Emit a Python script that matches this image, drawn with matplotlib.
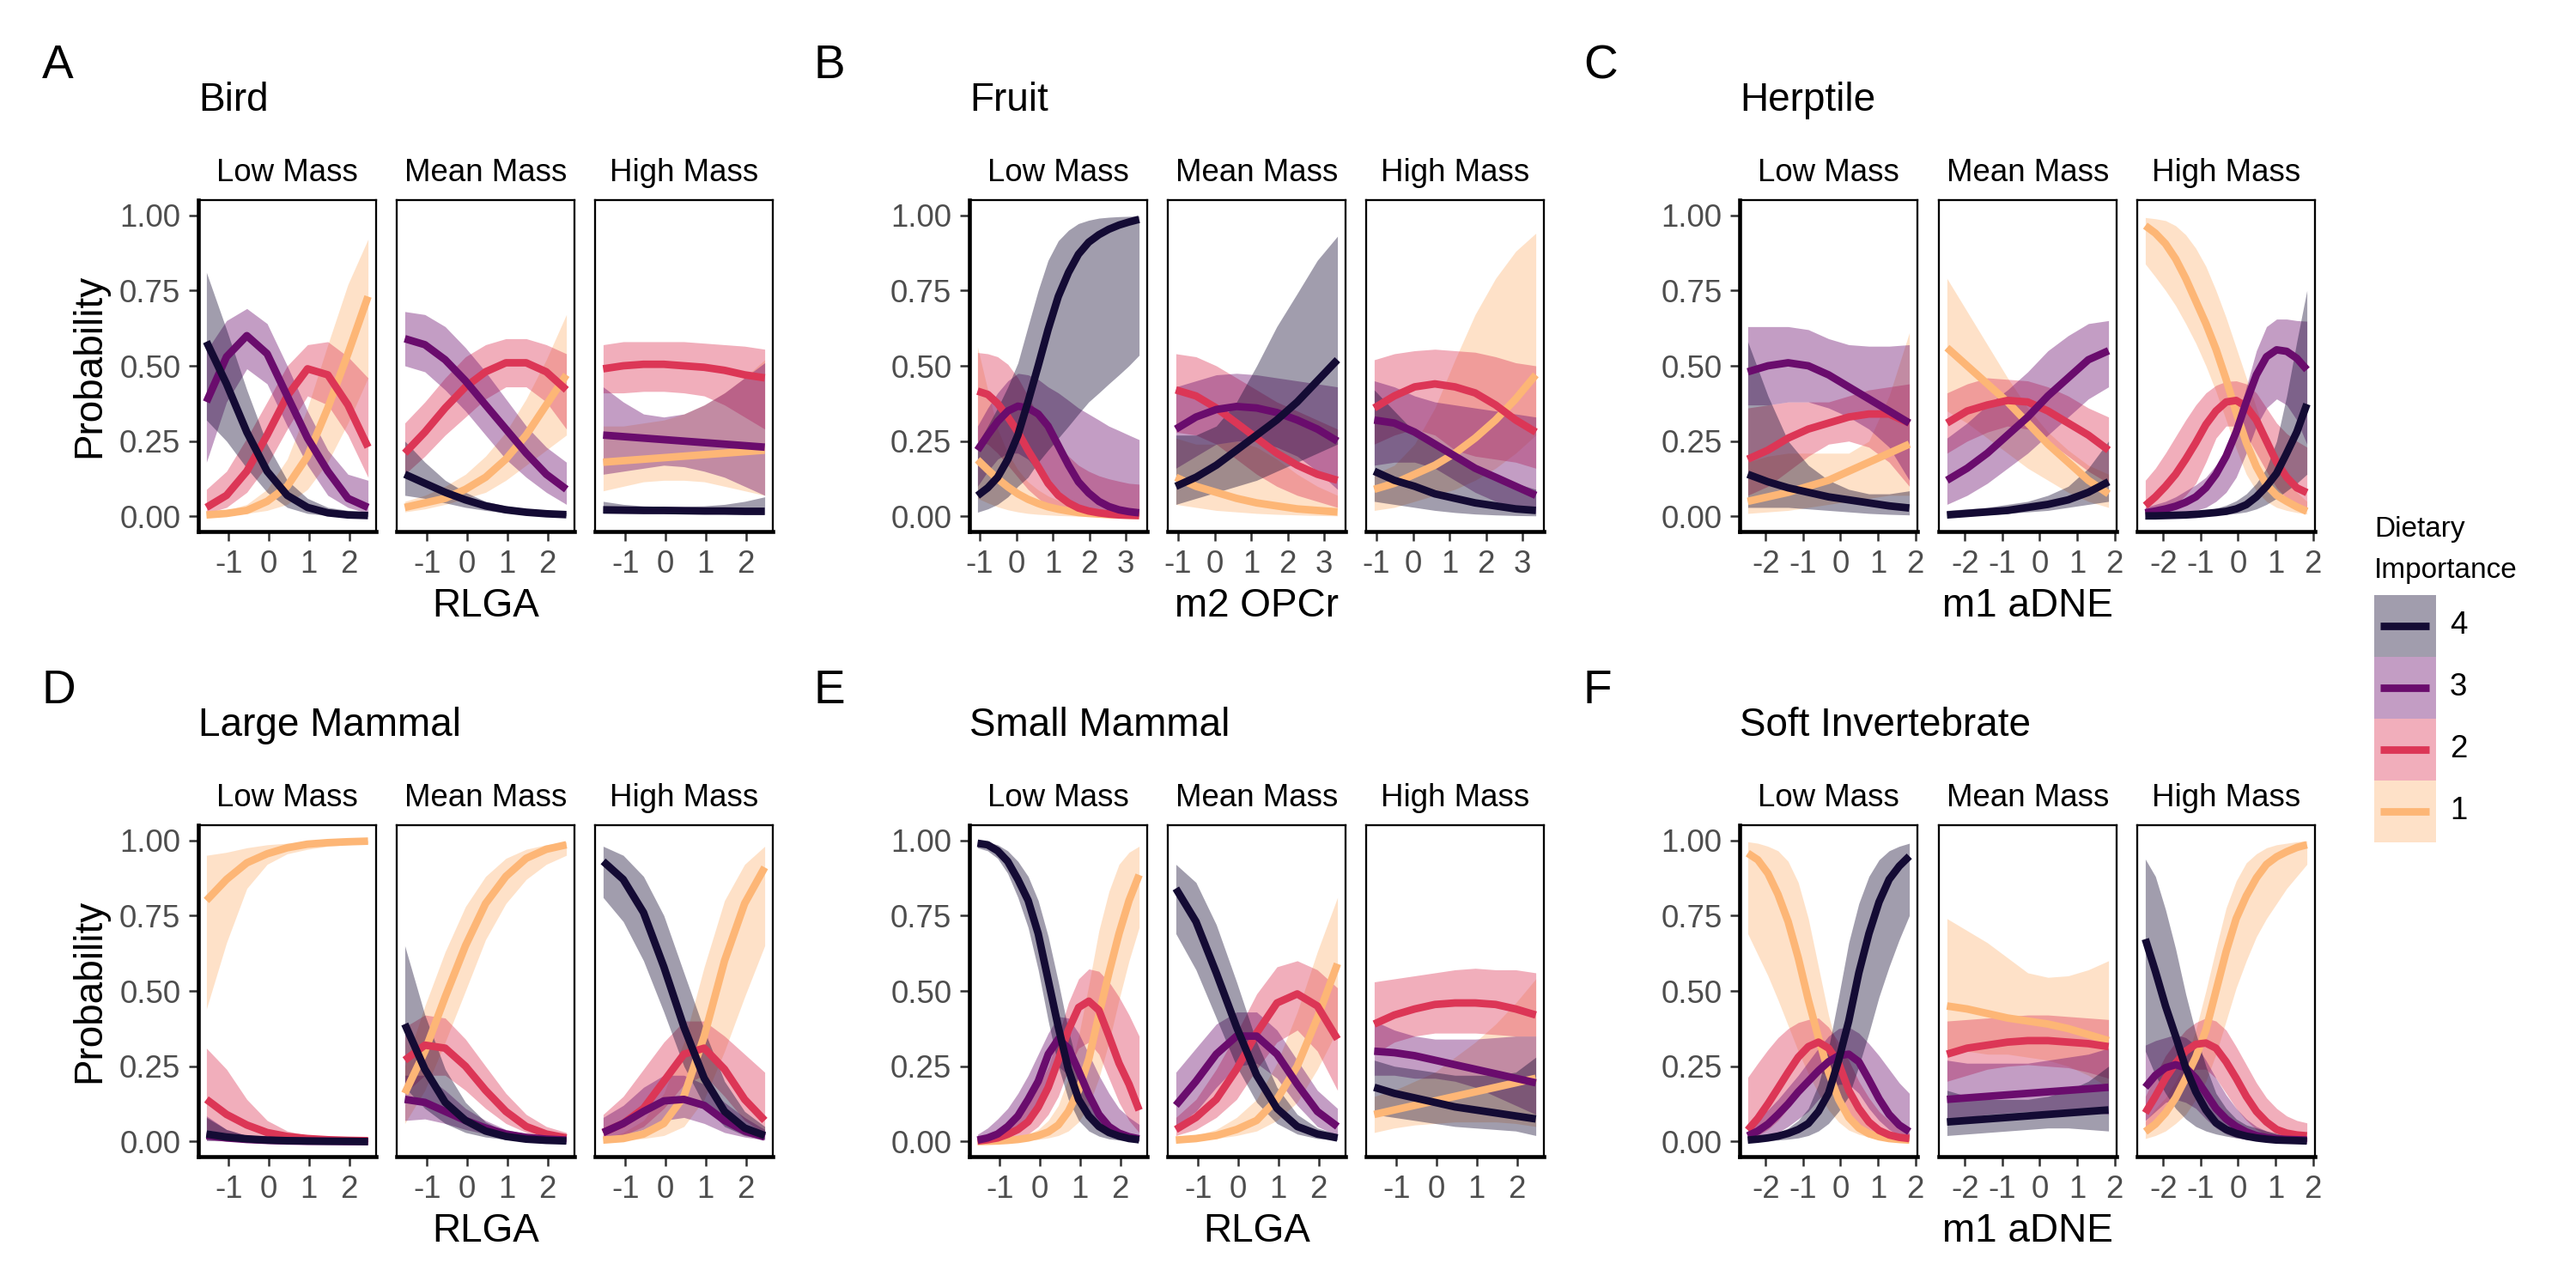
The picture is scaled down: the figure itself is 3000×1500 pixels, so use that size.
import matplotlib
matplotlib.use("Agg")
import matplotlib.pyplot as plt
from matplotlib.patches import Rectangle

plt.rcParams['font.family'] = ['Liberation Sans', 'DejaVu Sans']

# ---------------- data ----------------
levels = ["4", "3", "2", "1"]
level_colors = ["#140B34", "#6A0C6D", "#DC3656", "#FDB676"]
mass_labels = ["Low Mass", "Mean Mass", "High Mass"]

rlga_x = [-1.55, -1.05, -0.545, -0.04, 0.46, 0.965, 1.47, 1.97, 2.47]
opcr_x = [-1.06, -0.51, 0.045, 0.60, 1.15, 1.70, 2.26, 2.81, 3.36]
adne_x = [-2.48, -1.94, -1.40, -0.86, -0.32, 0.22, 0.76, 1.30, 1.84]
rlga_x17 = [-1.55, -1.30, -1.05, -0.80, -0.545, -0.29, -0.04, 0.21, 0.46,
            0.71, 0.965, 1.22, 1.47, 1.72, 1.97, 2.22, 2.47]
opcr_x17 = [-1.06, -0.78, -0.51, -0.23, 0.045, 0.32, 0.60, 0.87, 1.15,
            1.43, 1.70, 1.98, 2.26, 2.53, 2.81, 3.08, 3.36]
adne_x17 = [-2.48, -2.21, -1.94, -1.67, -1.40, -1.13, -0.86, -0.59, -0.32,
            -0.05, 0.22, 0.49, 0.76, 1.03, 1.30, 1.57, 1.84]
rlga_ticks = [-1, 0, 1, 2]
opcr_ticks = [-1, 0, 1, 2, 3]
adne_ticks = [-2, -1, 0, 1, 2]
y_ticks = [0.0, 0.25, 0.5, 0.75, 1.0]
y_tick_labels = ["0.00", "0.25", "0.50", "0.75", "1.00"]

# rows within each block: level 4, 3, 2, 1
# ---- A: Bird ----
bird_low_fit = [[0.58, 0.44, 0.28, 0.15, 0.07, 0.03, 0.012, 0.005, 0.003],
                [0.38, 0.53, 0.60, 0.54, 0.40, 0.26, 0.15, 0.06, 0.03],
                [0.03, 0.07, 0.15, 0.27, 0.40, 0.49, 0.47, 0.37, 0.23],
                [0.005, 0.01, 0.02, 0.05, 0.10, 0.20, 0.36, 0.54, 0.73]]
bird_low_lo = [[0.32, 0.25, 0.16, 0.08, 0.03, 0.01, 0.003, 0.001, 0.0],
               [0.18, 0.38, 0.49, 0.44, 0.30, 0.17, 0.07, 0.03, 0.01],
               [0.01, 0.03, 0.08, 0.17, 0.29, 0.40, 0.37, 0.27, 0.13],
               [0.0, 0.003, 0.01, 0.02, 0.04, 0.09, 0.18, 0.31, 0.46]]
bird_low_hi = [[0.81, 0.62, 0.42, 0.24, 0.12, 0.06, 0.03, 0.02, 0.015],
               [0.55, 0.65, 0.69, 0.64, 0.50, 0.35, 0.22, 0.14, 0.12],
               [0.09, 0.15, 0.26, 0.38, 0.50, 0.57, 0.58, 0.53, 0.46],
               [0.01, 0.02, 0.04, 0.09, 0.19, 0.36, 0.57, 0.77, 0.92]]
bird_mean_fit = [[0.14, 0.11, 0.08, 0.055, 0.035, 0.022, 0.014, 0.009, 0.006],
                 [0.59, 0.57, 0.52, 0.45, 0.37, 0.29, 0.21, 0.14, 0.09],
                 [0.21, 0.28, 0.36, 0.43, 0.48, 0.51, 0.51, 0.48, 0.42],
                 [0.03, 0.045, 0.06, 0.09, 0.13, 0.19, 0.27, 0.37, 0.47]]
bird_mean_lo = [[0.07, 0.06, 0.045, 0.03, 0.02, 0.012, 0.007, 0.004, 0.002],
                [0.50, 0.48, 0.42, 0.35, 0.27, 0.19, 0.13, 0.08, 0.04],
                [0.14, 0.20, 0.27, 0.33, 0.39, 0.43, 0.43, 0.38, 0.29],
                [0.015, 0.025, 0.04, 0.06, 0.08, 0.12, 0.17, 0.22, 0.27]]
bird_mean_hi = [[0.25, 0.18, 0.12, 0.08, 0.05, 0.035, 0.025, 0.018, 0.014],
                [0.68, 0.67, 0.63, 0.56, 0.48, 0.39, 0.30, 0.23, 0.18],
                [0.31, 0.38, 0.46, 0.53, 0.57, 0.59, 0.59, 0.57, 0.54],
                [0.05, 0.07, 0.10, 0.14, 0.20, 0.28, 0.39, 0.52, 0.67]]
bird_high_fit = [[0.022, 0.021, 0.02, 0.02, 0.019, 0.018, 0.018, 0.017, 0.017],
                 [0.27, 0.265, 0.26, 0.255, 0.25, 0.245, 0.24, 0.235, 0.23],
                 [0.49, 0.50, 0.505, 0.505, 0.50, 0.495, 0.485, 0.47, 0.46],
                 [0.18, 0.185, 0.19, 0.195, 0.20, 0.205, 0.21, 0.215, 0.22]]
bird_high_lo = [[0.01, 0.01, 0.01, 0.009, 0.009, 0.009, 0.008, 0.008, 0.007],
                [0.14, 0.15, 0.16, 0.17, 0.165, 0.15, 0.13, 0.10, 0.07],
                [0.41, 0.41, 0.415, 0.415, 0.41, 0.40, 0.37, 0.33, 0.29],
                [0.085, 0.10, 0.115, 0.12, 0.12, 0.115, 0.10, 0.085, 0.07]]
bird_high_hi = [[0.05, 0.04, 0.035, 0.033, 0.033, 0.035, 0.04, 0.05, 0.065],
                [0.43, 0.38, 0.34, 0.33, 0.34, 0.37, 0.41, 0.46, 0.51],
                [0.57, 0.58, 0.58, 0.58, 0.58, 0.575, 0.57, 0.565, 0.555],
                [0.30, 0.30, 0.31, 0.32, 0.34, 0.37, 0.41, 0.46, 0.52]]

# ---- B: Fruit ----  (low mass read on the finer grid)
fruit_low_fit = [[0.069, 0.095, 0.13, 0.19, 0.27, 0.38, 0.50, 0.62, 0.73, 0.81, 0.87, 0.91, 0.935, 0.953, 0.967, 0.977, 0.986],
                 [0.22, 0.27, 0.315, 0.35, 0.366, 0.36, 0.34, 0.30, 0.235, 0.17, 0.115, 0.078, 0.05, 0.033, 0.022, 0.016, 0.012],
                 [0.416, 0.405, 0.375, 0.33, 0.28, 0.22, 0.165, 0.11, 0.07, 0.045, 0.028, 0.018, 0.012, 0.008, 0.005, 0.004, 0.003],
                 [0.188, 0.155, 0.125, 0.098, 0.075, 0.057, 0.043, 0.032, 0.024, 0.018, 0.013, 0.01, 0.008, 0.006, 0.005, 0.004, 0.003]]
fruit_low_lo = [[0.014, 0.025, 0.04, 0.065, 0.10, 0.13, 0.18, 0.22, 0.26, 0.30, 0.34, 0.38, 0.41, 0.44, 0.47, 0.50, 0.535],
                [0.10, 0.15, 0.19, 0.21, 0.21, 0.19, 0.15, 0.11, 0.075, 0.05, 0.03, 0.018, 0.01, 0.006, 0.004, 0.003, 0.002],
                [0.25, 0.24, 0.21, 0.17, 0.13, 0.09, 0.06, 0.035, 0.02, 0.01, 0.006, 0.004, 0.002, 0.001, 0.001, 0.0, 0.0],
                [0.06, 0.045, 0.032, 0.022, 0.015, 0.01, 0.007, 0.005, 0.003, 0.002, 0.001, 0.001, 0.0, 0.0, 0.0, 0.0, 0.0]]
fruit_low_hi = [[0.24, 0.30, 0.36, 0.43, 0.51, 0.63, 0.75, 0.85, 0.915, 0.95, 0.972, 0.983, 0.99, 0.993, 0.995, 0.996, 0.997],
                [0.30, 0.36, 0.41, 0.45, 0.475, 0.47, 0.455, 0.43, 0.41, 0.385, 0.36, 0.34, 0.32, 0.30, 0.285, 0.27, 0.255],
                [0.544, 0.54, 0.53, 0.505, 0.46, 0.40, 0.335, 0.28, 0.235, 0.20, 0.17, 0.15, 0.135, 0.125, 0.117, 0.11, 0.107],
                [0.563, 0.42, 0.29, 0.21, 0.155, 0.115, 0.088, 0.068, 0.053, 0.043, 0.035, 0.028, 0.023, 0.019, 0.016, 0.014, 0.012]]
fruit_mean_fit = [[0.10, 0.13, 0.17, 0.22, 0.27, 0.32, 0.38, 0.45, 0.52],
                  [0.29, 0.33, 0.355, 0.365, 0.36, 0.345, 0.32, 0.29, 0.25],
                  [0.42, 0.40, 0.36, 0.31, 0.26, 0.21, 0.17, 0.14, 0.12],
                  [0.13, 0.10, 0.08, 0.06, 0.045, 0.035, 0.025, 0.02, 0.015]]
fruit_mean_lo = [[0.04, 0.06, 0.08, 0.10, 0.12, 0.15, 0.18, 0.21, 0.24],
                 [0.16, 0.20, 0.24, 0.25, 0.25, 0.23, 0.20, 0.15, 0.09],
                 [0.28, 0.27, 0.24, 0.19, 0.14, 0.10, 0.07, 0.05, 0.03],
                 [0.04, 0.03, 0.02, 0.015, 0.01, 0.007, 0.005, 0.003, 0.002]]
fruit_mean_hi = [[0.27, 0.27, 0.30, 0.38, 0.50, 0.63, 0.74, 0.85, 0.93],
                 [0.43, 0.45, 0.47, 0.475, 0.47, 0.46, 0.45, 0.44, 0.43],
                 [0.54, 0.53, 0.50, 0.46, 0.42, 0.38, 0.35, 0.32, 0.29],
                 [0.26, 0.24, 0.24, 0.25, 0.23, 0.19, 0.14, 0.10, 0.07]]
fruit_high_fit = [[0.15, 0.12, 0.10, 0.075, 0.06, 0.045, 0.035, 0.025, 0.02],
                  [0.32, 0.31, 0.28, 0.24, 0.20, 0.16, 0.13, 0.10, 0.07],
                  [0.36, 0.40, 0.43, 0.44, 0.43, 0.41, 0.37, 0.32, 0.28],
                  [0.09, 0.11, 0.14, 0.17, 0.21, 0.26, 0.32, 0.39, 0.47]]
fruit_high_lo = [[0.05, 0.04, 0.03, 0.02, 0.013, 0.008, 0.005, 0.003, 0.002],
                 [0.17, 0.18, 0.18, 0.16, 0.12, 0.08, 0.05, 0.03, 0.01],
                 [0.24, 0.27, 0.29, 0.27, 0.22, 0.20, 0.19, 0.18, 0.16],
                 [0.02, 0.03, 0.05, 0.07, 0.09, 0.12, 0.16, 0.21, 0.27]]
fruit_high_hi = [[0.42, 0.35, 0.28, 0.23, 0.19, 0.16, 0.13, 0.11, 0.09],
                 [0.45, 0.43, 0.40, 0.38, 0.37, 0.36, 0.35, 0.34, 0.33],
                 [0.52, 0.54, 0.55, 0.555, 0.55, 0.545, 0.53, 0.51, 0.50],
                 [0.14, 0.17, 0.24, 0.36, 0.52, 0.67, 0.79, 0.88, 0.94]]

# ---- C: Herptile ---- (high mass read on the finer grid)
herp_low_fit = [[0.14, 0.115, 0.095, 0.08, 0.065, 0.055, 0.045, 0.035, 0.028],
                [0.48, 0.50, 0.51, 0.50, 0.47, 0.43, 0.39, 0.35, 0.31],
                [0.19, 0.22, 0.26, 0.29, 0.31, 0.33, 0.34, 0.34, 0.31],
                [0.05, 0.065, 0.08, 0.10, 0.12, 0.15, 0.18, 0.21, 0.24]]
herp_low_lo = [[0.03, 0.03, 0.03, 0.025, 0.02, 0.015, 0.01, 0.007, 0.005],
               [0.37, 0.37, 0.38, 0.38, 0.36, 0.33, 0.29, 0.23, 0.12],
               [0.07, 0.10, 0.15, 0.20, 0.24, 0.25, 0.23, 0.18, 0.10],
               [0.01, 0.015, 0.02, 0.03, 0.04, 0.05, 0.06, 0.07, 0.07]]
herp_low_hi = [[0.58, 0.40, 0.25, 0.17, 0.12, 0.09, 0.075, 0.075, 0.085],
               [0.63, 0.63, 0.63, 0.62, 0.59, 0.57, 0.565, 0.565, 0.57],
               [0.36, 0.37, 0.38, 0.38, 0.38, 0.40, 0.42, 0.43, 0.44],
               [0.18, 0.20, 0.21, 0.21, 0.21, 0.21, 0.25, 0.40, 0.61]]
herp_mean_fit = [[0.005, 0.01, 0.015, 0.02, 0.03, 0.04, 0.055, 0.08, 0.115],
                 [0.12, 0.16, 0.21, 0.27, 0.33, 0.40, 0.46, 0.52, 0.55],
                 [0.31, 0.35, 0.37, 0.385, 0.38, 0.35, 0.31, 0.27, 0.22],
                 [0.56, 0.50, 0.44, 0.38, 0.31, 0.24, 0.18, 0.12, 0.075]]
herp_mean_lo = [[0.001, 0.003, 0.005, 0.01, 0.015, 0.02, 0.03, 0.04, 0.05],
                [0.04, 0.07, 0.11, 0.16, 0.21, 0.27, 0.33, 0.39, 0.43],
                [0.21, 0.25, 0.28, 0.30, 0.29, 0.25, 0.20, 0.15, 0.11],
                [0.35, 0.31, 0.26, 0.21, 0.16, 0.12, 0.08, 0.05, 0.03]]
herp_mean_hi = [[0.02, 0.025, 0.03, 0.04, 0.05, 0.07, 0.10, 0.16, 0.25],
                [0.26, 0.31, 0.37, 0.42, 0.48, 0.55, 0.60, 0.64, 0.65],
                [0.41, 0.44, 0.46, 0.455, 0.45, 0.43, 0.40, 0.36, 0.33],
                [0.79, 0.68, 0.57, 0.46, 0.36, 0.28, 0.22, 0.17, 0.14]]
herp_high_fit = [[0.002, 0.002, 0.003, 0.004, 0.005, 0.007, 0.01, 0.013, 0.017, 0.025, 0.039, 0.065, 0.10, 0.143, 0.21, 0.28, 0.373],
                 [0.012, 0.018, 0.025, 0.034, 0.047, 0.065, 0.095, 0.14, 0.20, 0.28, 0.38, 0.47, 0.53, 0.553, 0.548, 0.525, 0.487],
                 [0.036, 0.065, 0.10, 0.14, 0.19, 0.245, 0.305, 0.35, 0.38, 0.385, 0.365, 0.32, 0.25, 0.18, 0.13, 0.095, 0.079],
                 [0.965, 0.94, 0.905, 0.855, 0.79, 0.715, 0.64, 0.555, 0.455, 0.345, 0.245, 0.165, 0.105, 0.07, 0.05, 0.032, 0.017]]
herp_high_lo = [[0.0, 0.0, 0.0, 0.001, 0.001, 0.002, 0.003, 0.005, 0.007, 0.01, 0.015, 0.025, 0.04, 0.06, 0.085, 0.11, 0.14],
                [0.002, 0.003, 0.005, 0.008, 0.012, 0.02, 0.03, 0.05, 0.08, 0.13, 0.21, 0.30, 0.36, 0.39, 0.37, 0.32, 0.24],
                [0.005, 0.01, 0.02, 0.04, 0.07, 0.11, 0.18, 0.26, 0.30, 0.30, 0.27, 0.21, 0.15, 0.095, 0.06, 0.04, 0.025],
                [0.838, 0.795, 0.75, 0.70, 0.64, 0.575, 0.50, 0.415, 0.32, 0.225, 0.14, 0.085, 0.05, 0.03, 0.02, 0.013, 0.008]]
herp_high_hi = [[0.005, 0.006, 0.007, 0.009, 0.011, 0.015, 0.02, 0.027, 0.037, 0.052, 0.075, 0.11, 0.16, 0.25, 0.40, 0.58, 0.75],
                [0.03, 0.04, 0.05, 0.065, 0.085, 0.105, 0.13, 0.17, 0.22, 0.31, 0.43, 0.55, 0.63, 0.655, 0.655, 0.65, 0.648],
                [0.12, 0.16, 0.21, 0.265, 0.32, 0.37, 0.41, 0.435, 0.448, 0.45, 0.44, 0.41, 0.36, 0.31, 0.275, 0.25, 0.23],
                [0.992, 0.988, 0.982, 0.965, 0.935, 0.89, 0.83, 0.75, 0.66, 0.56, 0.46, 0.36, 0.26, 0.18, 0.12, 0.08, 0.05]]

# ---- D: Large Mammal ----
lm_low_fit = [[0.025, 0.015, 0.009, 0.005, 0.003, 0.002, 0.001, 0.001, 0.0],
              [0.02, 0.012, 0.007, 0.004, 0.002, 0.001, 0.001, 0.0, 0.0],
              [0.14, 0.09, 0.055, 0.03, 0.017, 0.01, 0.006, 0.004, 0.003],
              [0.80, 0.87, 0.925, 0.955, 0.975, 0.987, 0.992, 0.995, 0.997]]
lm_low_lo = [[0.005, 0.003, 0.002, 0.001, 0.0, 0.0, 0.0, 0.0, 0.0],
             [0.003, 0.002, 0.001, 0.0, 0.0, 0.0, 0.0, 0.0, 0.0],
             [0.04, 0.025, 0.015, 0.008, 0.004, 0.002, 0.001, 0.001, 0.0],
             [0.44, 0.66, 0.84, 0.92, 0.955, 0.97, 0.98, 0.985, 0.99]]
lm_low_hi = [[0.08, 0.04, 0.02, 0.01, 0.006, 0.004, 0.003, 0.002, 0.002],
             [0.085, 0.04, 0.02, 0.01, 0.005, 0.003, 0.002, 0.001, 0.001],
             [0.31, 0.24, 0.14, 0.07, 0.035, 0.02, 0.014, 0.012, 0.011],
             [0.95, 0.96, 0.975, 0.985, 0.99, 0.995, 0.997, 0.998, 0.999]]
lm_mean_fit = [[0.39, 0.24, 0.13, 0.07, 0.035, 0.017, 0.008, 0.004, 0.002],
               [0.14, 0.13, 0.10, 0.07, 0.045, 0.025, 0.014, 0.008, 0.005],
               [0.27, 0.32, 0.31, 0.25, 0.17, 0.10, 0.05, 0.025, 0.012],
               [0.16, 0.30, 0.48, 0.65, 0.79, 0.88, 0.94, 0.97, 0.985]]
lm_mean_lo = [[0.18, 0.11, 0.06, 0.03, 0.015, 0.007, 0.003, 0.001, 0.0],
              [0.07, 0.075, 0.06, 0.04, 0.025, 0.013, 0.007, 0.004, 0.002],
              [0.16, 0.22, 0.22, 0.17, 0.11, 0.06, 0.03, 0.012, 0.005],
              [0.06, 0.17, 0.33, 0.50, 0.67, 0.79, 0.87, 0.92, 0.95]]
lm_mean_hi = [[0.65, 0.42, 0.24, 0.13, 0.065, 0.032, 0.016, 0.008, 0.004],
              [0.22, 0.22, 0.17, 0.11, 0.07, 0.04, 0.025, 0.015, 0.01],
              [0.38, 0.42, 0.41, 0.34, 0.25, 0.16, 0.09, 0.05, 0.03],
              [0.25, 0.45, 0.63, 0.78, 0.88, 0.94, 0.97, 0.985, 0.995]]
lm_high_fit = [[0.93, 0.87, 0.76, 0.58, 0.38, 0.21, 0.10, 0.045, 0.02],
               [0.03, 0.06, 0.10, 0.135, 0.14, 0.12, 0.07, 0.035, 0.015],
               [0.03, 0.06, 0.11, 0.20, 0.29, 0.31, 0.24, 0.14, 0.07],
               [0.005, 0.01, 0.025, 0.06, 0.15, 0.35, 0.60, 0.79, 0.91]]
lm_high_lo = [[0.81, 0.73, 0.60, 0.43, 0.25, 0.12, 0.05, 0.02, 0.008],
              [0.01, 0.02, 0.04, 0.07, 0.08, 0.06, 0.03, 0.015, 0.005],
              [0.01, 0.02, 0.05, 0.11, 0.19, 0.22, 0.15, 0.07, 0.025],
              [0.002, 0.004, 0.01, 0.02, 0.05, 0.14, 0.30, 0.48, 0.65]]
lm_high_hi = [[0.98, 0.95, 0.88, 0.75, 0.56, 0.37, 0.20, 0.10, 0.05],
              [0.08, 0.12, 0.18, 0.22, 0.22, 0.19, 0.13, 0.08, 0.04],
              [0.09, 0.15, 0.24, 0.33, 0.40, 0.40, 0.35, 0.29, 0.23],
              [0.01, 0.03, 0.07, 0.16, 0.33, 0.58, 0.80, 0.92, 0.98]]

# ---- E: Small Mammal ---- (low mass read on the finer grid)
sm_low_fit = [[0.99, 0.985, 0.965, 0.93, 0.87, 0.80, 0.69, 0.535, 0.38, 0.24, 0.14, 0.085, 0.05, 0.03, 0.018, 0.01, 0.006],
              [0.005, 0.012, 0.025, 0.05, 0.085, 0.14, 0.20, 0.29, 0.34, 0.31, 0.235, 0.155, 0.09, 0.05, 0.028, 0.016, 0.009],
              [0.002, 0.006, 0.012, 0.024, 0.04, 0.066, 0.114, 0.18, 0.27, 0.37, 0.445, 0.466, 0.436, 0.35, 0.26, 0.19, 0.104],
              [0.0, 0.001, 0.002, 0.004, 0.007, 0.012, 0.02, 0.032, 0.055, 0.10, 0.17, 0.275, 0.42, 0.56, 0.69, 0.80, 0.885]]
sm_low_lo = [[0.975, 0.965, 0.94, 0.89, 0.81, 0.71, 0.57, 0.40, 0.25, 0.14, 0.07, 0.035, 0.018, 0.009, 0.005, 0.003, 0.001],
             [0.001, 0.003, 0.008, 0.018, 0.035, 0.065, 0.12, 0.20, 0.25, 0.22, 0.15, 0.085, 0.045, 0.022, 0.012, 0.006, 0.003],
             [0.0, 0.001, 0.003, 0.007, 0.013, 0.025, 0.05, 0.09, 0.15, 0.24, 0.31, 0.33, 0.29, 0.21, 0.13, 0.07, 0.03],
             [0.0, 0.0, 0.001, 0.001, 0.002, 0.004, 0.007, 0.012, 0.02, 0.035, 0.065, 0.12, 0.21, 0.33, 0.47, 0.60, 0.71]]
sm_low_hi = [[0.995, 0.993, 0.985, 0.965, 0.93, 0.88, 0.80, 0.68, 0.53, 0.37, 0.24, 0.15, 0.09, 0.055, 0.035, 0.025, 0.02],
             [0.024, 0.045, 0.075, 0.11, 0.16, 0.22, 0.29, 0.36, 0.415, 0.41, 0.36, 0.29, 0.22, 0.16, 0.11, 0.08, 0.057],
             [0.01, 0.015, 0.025, 0.045, 0.075, 0.12, 0.18, 0.25, 0.35, 0.46, 0.54, 0.573, 0.565, 0.53, 0.48, 0.42, 0.35],
             [0.001, 0.002, 0.004, 0.008, 0.014, 0.024, 0.04, 0.07, 0.12, 0.21, 0.35, 0.52, 0.70, 0.83, 0.92, 0.96, 0.98]]
sm_mean_fit = [[0.84, 0.73, 0.56, 0.38, 0.22, 0.11, 0.05, 0.025, 0.012],
               [0.12, 0.20, 0.29, 0.35, 0.35, 0.29, 0.19, 0.10, 0.05],
               [0.04, 0.08, 0.14, 0.24, 0.36, 0.46, 0.49, 0.45, 0.34],
               [0.005, 0.01, 0.02, 0.04, 0.07, 0.14, 0.25, 0.41, 0.59]]
sm_mean_lo = [[0.69, 0.57, 0.41, 0.25, 0.13, 0.06, 0.025, 0.01, 0.005],
              [0.05, 0.10, 0.18, 0.25, 0.26, 0.21, 0.12, 0.05, 0.02],
              [0.02, 0.04, 0.08, 0.14, 0.24, 0.33, 0.37, 0.30, 0.17],
              [0.002, 0.004, 0.01, 0.02, 0.035, 0.07, 0.13, 0.24, 0.37]]
sm_mean_hi = [[0.92, 0.86, 0.72, 0.53, 0.33, 0.18, 0.09, 0.045, 0.025],
              [0.23, 0.31, 0.39, 0.43, 0.43, 0.37, 0.27, 0.17, 0.11],
              [0.08, 0.14, 0.24, 0.36, 0.49, 0.58, 0.60, 0.57, 0.51],
              [0.01, 0.02, 0.04, 0.08, 0.14, 0.26, 0.43, 0.63, 0.81]]
sm_high_fit = [[0.18, 0.16, 0.145, 0.13, 0.115, 0.105, 0.095, 0.085, 0.075],
               [0.30, 0.295, 0.285, 0.27, 0.255, 0.24, 0.225, 0.21, 0.195],
               [0.39, 0.42, 0.44, 0.455, 0.46, 0.46, 0.455, 0.44, 0.42],
               [0.09, 0.105, 0.12, 0.135, 0.15, 0.165, 0.18, 0.195, 0.21]]
sm_high_lo = [[0.09, 0.08, 0.07, 0.06, 0.05, 0.045, 0.04, 0.035, 0.02],
              [0.22, 0.22, 0.21, 0.21, 0.20, 0.18, 0.15, 0.12, 0.09],
              [0.29, 0.33, 0.35, 0.36, 0.36, 0.36, 0.355, 0.35, 0.35],
              [0.03, 0.045, 0.055, 0.06, 0.065, 0.065, 0.065, 0.06, 0.05]]
sm_high_hi = [[0.27, 0.25, 0.24, 0.23, 0.22, 0.22, 0.22, 0.23, 0.28],
              [0.40, 0.37, 0.35, 0.34, 0.34, 0.34, 0.345, 0.35, 0.35],
              [0.53, 0.54, 0.55, 0.56, 0.57, 0.575, 0.57, 0.57, 0.56],
              [0.15, 0.17, 0.20, 0.23, 0.28, 0.33, 0.39, 0.46, 0.54]]

# ---- F: Soft Invertebrate ---- (low and high mass read on the finer grid)
si_low_fit = [[0.005, 0.008, 0.012, 0.018, 0.027, 0.04, 0.06, 0.10, 0.16, 0.27, 0.40, 0.56, 0.69, 0.795, 0.87, 0.914, 0.947],
              [0.019, 0.035, 0.058, 0.09, 0.125, 0.165, 0.20, 0.235, 0.265, 0.285, 0.29, 0.265, 0.205, 0.142, 0.09, 0.055, 0.033],
              [0.038, 0.077, 0.125, 0.177, 0.23, 0.28, 0.315, 0.33, 0.31, 0.26, 0.17, 0.11, 0.065, 0.037, 0.022, 0.014, 0.01],
              [0.957, 0.935, 0.89, 0.82, 0.73, 0.61, 0.47, 0.345, 0.23, 0.14, 0.08, 0.045, 0.026, 0.016, 0.01, 0.007, 0.005]]
si_low_lo = [[0.001, 0.002, 0.003, 0.005, 0.008, 0.012, 0.02, 0.035, 0.06, 0.10, 0.15, 0.25, 0.36, 0.48, 0.58, 0.67, 0.75],
             [0.003, 0.008, 0.016, 0.03, 0.05, 0.075, 0.10, 0.14, 0.17, 0.19, 0.19, 0.16, 0.11, 0.07, 0.04, 0.02, 0.01],
             [0.008, 0.02, 0.04, 0.07, 0.11, 0.16, 0.20, 0.23, 0.22, 0.17, 0.10, 0.05, 0.025, 0.012, 0.006, 0.003, 0.002],
             [0.69, 0.62, 0.55, 0.47, 0.385, 0.30, 0.225, 0.16, 0.105, 0.065, 0.038, 0.024, 0.015, 0.01, 0.007, 0.005, 0.004]]
si_low_hi = [[0.01, 0.014, 0.02, 0.03, 0.045, 0.07, 0.11, 0.19, 0.31, 0.48, 0.66, 0.79, 0.88, 0.935, 0.965, 0.98, 0.99],
             [0.06, 0.08, 0.105, 0.14, 0.18, 0.22, 0.265, 0.31, 0.35, 0.375, 0.38, 0.36, 0.325, 0.285, 0.24, 0.195, 0.16],
             [0.213, 0.26, 0.305, 0.345, 0.375, 0.395, 0.405, 0.41, 0.38, 0.33, 0.27, 0.20, 0.145, 0.10, 0.07, 0.045, 0.028],
             [0.995, 0.99, 0.98, 0.965, 0.93, 0.86, 0.74, 0.58, 0.42, 0.29, 0.18, 0.11, 0.065, 0.04, 0.025, 0.017, 0.012]]
si_mean_fit = [[0.065, 0.07, 0.075, 0.08, 0.085, 0.09, 0.095, 0.10, 0.105],
               [0.14, 0.145, 0.15, 0.155, 0.16, 0.165, 0.17, 0.175, 0.18],
               [0.29, 0.31, 0.32, 0.33, 0.335, 0.335, 0.33, 0.325, 0.315],
               [0.45, 0.44, 0.425, 0.41, 0.40, 0.39, 0.375, 0.355, 0.335]]
si_mean_lo = [[0.02, 0.025, 0.03, 0.035, 0.04, 0.045, 0.045, 0.04, 0.035],
              [0.07, 0.08, 0.09, 0.095, 0.10, 0.10, 0.10, 0.10, 0.09],
              [0.20, 0.22, 0.24, 0.25, 0.255, 0.25, 0.245, 0.23, 0.21],
              [0.30, 0.30, 0.29, 0.29, 0.28, 0.27, 0.25, 0.22, 0.18]]
si_mean_hi = [[0.17, 0.15, 0.14, 0.14, 0.14, 0.15, 0.17, 0.20, 0.25],
              [0.27, 0.26, 0.26, 0.26, 0.26, 0.27, 0.28, 0.29, 0.31],
              [0.40, 0.405, 0.41, 0.415, 0.42, 0.42, 0.415, 0.41, 0.405],
              [0.74, 0.70, 0.66, 0.61, 0.56, 0.545, 0.55, 0.57, 0.60]]
si_high_fit = [[0.672, 0.565, 0.45, 0.35, 0.245, 0.165, 0.105, 0.062, 0.04, 0.027, 0.018, 0.012, 0.008, 0.005, 0.004, 0.003, 0.002],
               [0.18, 0.22, 0.245, 0.255, 0.245, 0.21, 0.16, 0.11, 0.075, 0.05, 0.032, 0.02, 0.013, 0.009, 0.007, 0.006, 0.005],
               [0.095, 0.15, 0.21, 0.26, 0.30, 0.323, 0.327, 0.31, 0.265, 0.21, 0.15, 0.10, 0.065, 0.04, 0.028, 0.022, 0.019],
               [0.033, 0.058, 0.095, 0.145, 0.21, 0.28, 0.37, 0.50, 0.63, 0.74, 0.815, 0.875, 0.92, 0.945, 0.962, 0.976, 0.985]]
si_high_lo = [[0.30, 0.22, 0.16, 0.11, 0.075, 0.05, 0.035, 0.025, 0.018, 0.012, 0.008, 0.005, 0.003, 0.002, 0.001, 0.001, 0.0],
              [0.07, 0.10, 0.13, 0.14, 0.13, 0.11, 0.075, 0.045, 0.025, 0.013, 0.007, 0.004, 0.002, 0.001, 0.001, 0.0, 0.0],
              [0.03, 0.06, 0.11, 0.16, 0.21, 0.24, 0.24, 0.21, 0.16, 0.11, 0.07, 0.04, 0.022, 0.012, 0.007, 0.004, 0.003],
              [0.01, 0.02, 0.035, 0.06, 0.09, 0.14, 0.20, 0.29, 0.40, 0.51, 0.60, 0.68, 0.74, 0.79, 0.84, 0.88, 0.92]]
si_high_hi = [[0.9375, 0.88, 0.77, 0.64, 0.49, 0.36, 0.25, 0.16, 0.11, 0.075, 0.055, 0.045, 0.035, 0.027, 0.02, 0.016, 0.014],
              [0.32, 0.335, 0.345, 0.355, 0.345, 0.32, 0.27, 0.21, 0.155, 0.11, 0.075, 0.05, 0.035, 0.025, 0.02, 0.016, 0.014],
              [0.15, 0.22, 0.285, 0.33, 0.37, 0.395, 0.41, 0.40, 0.37, 0.315, 0.255, 0.195, 0.145, 0.11, 0.085, 0.07, 0.062],
              [0.066, 0.11, 0.145, 0.20, 0.265, 0.37, 0.50, 0.64, 0.775, 0.865, 0.925, 0.955, 0.975, 0.985, 0.99, 0.995, 0.998]]

panels = [
    dict(tag="A", title="Bird", xlab="RLGA", ticks=rlga_ticks,
         xs=[rlga_x, rlga_x, rlga_x],
         fit=[bird_low_fit, bird_mean_fit, bird_high_fit],
         lo=[bird_low_lo, bird_mean_lo, bird_high_lo],
         hi=[bird_low_hi, bird_mean_hi, bird_high_hi]),
    dict(tag="B", title="Fruit", xlab="m2 OPCr", ticks=opcr_ticks,
         xs=[opcr_x17, opcr_x, opcr_x],
         fit=[fruit_low_fit, fruit_mean_fit, fruit_high_fit],
         lo=[fruit_low_lo, fruit_mean_lo, fruit_high_lo],
         hi=[fruit_low_hi, fruit_mean_hi, fruit_high_hi]),
    dict(tag="C", title="Herptile", xlab="m1 aDNE", ticks=adne_ticks,
         xs=[adne_x, adne_x, adne_x17],
         fit=[herp_low_fit, herp_mean_fit, herp_high_fit],
         lo=[herp_low_lo, herp_mean_lo, herp_high_lo],
         hi=[herp_low_hi, herp_mean_hi, herp_high_hi]),
    dict(tag="D", title="Large Mammal", xlab="RLGA", ticks=rlga_ticks,
         xs=[rlga_x, rlga_x, rlga_x],
         fit=[lm_low_fit, lm_mean_fit, lm_high_fit],
         lo=[lm_low_lo, lm_mean_lo, lm_high_lo],
         hi=[lm_low_hi, lm_mean_hi, lm_high_hi]),
    dict(tag="E", title="Small Mammal", xlab="RLGA", ticks=rlga_ticks,
         xs=[rlga_x17, rlga_x, rlga_x],
         fit=[sm_low_fit, sm_mean_fit, sm_high_fit],
         lo=[sm_low_lo, sm_mean_lo, sm_high_lo],
         hi=[sm_low_hi, sm_mean_hi, sm_high_hi]),
    dict(tag="F", title="Soft Invertebrate", xlab="m1 aDNE", ticks=adne_ticks,
         xs=[adne_x17, adne_x, adne_x17],
         fit=[si_low_fit, si_mean_fit, si_high_fit],
         lo=[si_low_lo, si_mean_lo, si_high_lo],
         hi=[si_low_hi, si_mean_hi, si_high_hi]),
]

# ---------------- layout (pixels of a 3000x1500 canvas) ----------------
W, H = 3000, 1500
col_facet_x = [[231, 462, 693], [1129, 1360, 1591], [2026, 2258, 2489]]
facet_w = 207
row_top = [233, 961]
facet_h = 386
row_shift = 728

TICK_FS = 8.8
STRIP_FS = 8.8
AXTITLE_FS = 11
TITLE_FS = 11
TAG_FS = 13.2
TEXT_GREY = "#4D4D4D"
TICK_COL = "#333333"
LW = 2.1
ALPHA = 0.4

fig = plt.figure(figsize=(10, 5), dpi=300)
fig.patch.set_facecolor("white")


def fx(px):
    return px / W


def fy(py):
    return 1 - py / H


for pi, p in enumerate(panels):
    col = pi % 3
    row = pi // 3
    top = row_top[row]
    dy = row * row_shift
    all_x = [v for xs in p["xs"] for v in xs]
    span = max(all_x) - min(all_x)
    xlim = (min(all_x) - 0.05 * span, max(all_x) + 0.05 * span)
    for fi in range(3):
        x0 = col_facet_x[col][fi]
        ax = fig.add_axes([fx(x0), fy(top + facet_h), facet_w / W, facet_h / H])
        ax.set_facecolor("white")
        xs = p["xs"][fi]
        fit, lo, hi = p["fit"][fi], p["lo"][fi], p["hi"][fi]
        order = [3, 2, 1, 0]  # draw level 1 first, level 4 last
        for k in order:
            ax.fill_between(xs, lo[k], hi[k], color=level_colors[k], alpha=ALPHA,
                            linewidth=0)
        for k in order:
            ax.plot(xs, fit[k], color=level_colors[k], lw=LW,
                    solid_capstyle="butt", solid_joinstyle="round")
        ax.set_xlim(*xlim)
        ax.set_ylim(-0.05, 1.05)
        ax.set_xticks(p["ticks"])
        ax.set_xticklabels([str(t) for t in p["ticks"]])
        ax.tick_params(axis="x", direction="out", length=2.75, width=0.6,
                       color=TICK_COL, labelsize=TICK_FS, labelcolor=TEXT_GREY,
                       pad=2.2)
        if fi == 0:
            ax.set_yticks(y_ticks)
            ax.set_yticklabels(y_tick_labels)
            ax.tick_params(axis="y", direction="out", length=2.75, width=0.6,
                           color=TICK_COL, labelsize=TICK_FS,
                           labelcolor=TEXT_GREY, pad=2.2)
        else:
            ax.set_yticks([])
        for s in ["top", "right", "left", "bottom"]:
            ax.spines[s].set_color("black")
            ax.spines[s].set_linewidth(0.55)
        ax.spines["bottom"].set_linewidth(1.1)
        if fi == 0:
            ax.spines["left"].set_linewidth(1.1)
        fig.text(fx(x0 + facet_w / 2), fy(211 + dy), mass_labels[fi],
                 fontsize=STRIP_FS, ha="center", va="baseline", color="black")
    left = col_facet_x[col][0]
    fig.text(fx(left - 182), fy(91 + dy), p["tag"], fontsize=TAG_FS,
             ha="left", va="baseline")
    fig.text(fx(left), fy(129 + dy), p["title"], fontsize=TITLE_FS,
             ha="left", va="baseline")
    mid = col_facet_x[col][1] + facet_w / 2
    fig.text(fx(mid), fy(718 + dy), p["xlab"], fontsize=AXTITLE_FS,
             ha="center", va="baseline")
    if col == 0:
        fig.text(fx(104), fy(top + facet_h / 2), "Probability",
                 fontsize=AXTITLE_FS, rotation=90, ha="center", va="center")

# ---------------- legend ----------------
lax = fig.add_axes([fx(2740), fy(1000), 260 / W, 420 / H])
lax.set_xlim(2740, 3000)
lax.set_ylim(1000, 580)
lax.axis("off")
key_x0, key_top, key_size = 2765, 693, 72
lax.text(key_x0, 625, "Dietary", fontsize=8, ha="left", va="baseline")
lax.text(key_x0, 673, "Importance", fontsize=8, ha="left", va="baseline")
for i, (lab, c) in enumerate(zip(levels, level_colors)):
    ky = key_top + i * key_size
    lax.add_patch(Rectangle((key_x0, ky), key_size, key_size, facecolor=c,
                            alpha=ALPHA, linewidth=0))
    lax.plot([key_x0 + 7, key_x0 + key_size - 8], [ky + key_size / 2] * 2,
             color=c, lw=LW, solid_capstyle="butt")
    lax.text(key_x0 + key_size + 16, ky + key_size / 2, lab, fontsize=TICK_FS,
             ha="left", va="center")

fig.savefig("out.png", dpi=300, facecolor="white")
